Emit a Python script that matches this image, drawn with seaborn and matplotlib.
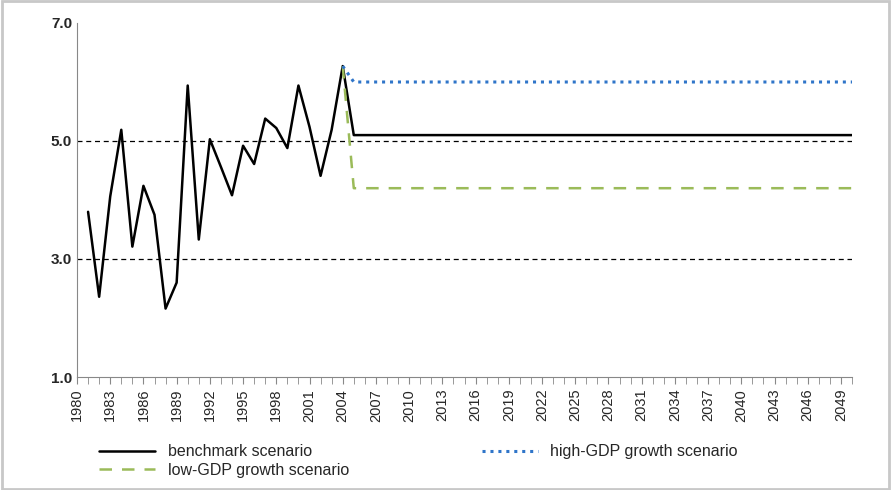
import matplotlib
matplotlib.use("Agg")
import matplotlib.pyplot as plt
import seaborn as sns
import pandas as pd
import numpy as np

# historical values, 1981-2004
hist_years = list(range(1981, 2005))
hist_vals = [3.80, 2.36, 4.06, 5.19, 3.21, 4.24, 3.75, 2.16, 2.60, 5.94, 3.33, 5.03,
             4.56, 4.08, 4.92, 4.61, 5.38, 5.22, 4.88, 5.94, 5.24, 4.41, 5.19, 6.27]
proj_years = list(range(2005, 2051))
bench_level = 5.1
high_level = 6.0
low_level = 4.2

sns.set_style("white")
plt.rcParams["font.family"] = ["Liberation Sans", "DejaVu Sans"]

bench = pd.DataFrame({"year": hist_years + proj_years,
                      "val": hist_vals + [bench_level] * len(proj_years)})
high = pd.DataFrame({"year": [2004] + proj_years, "val": [hist_vals[-1]] + [high_level] * len(proj_years)})
low = pd.DataFrame({"year": [2004] + proj_years, "val": [hist_vals[-1]] + [low_level] * len(proj_years)})

fig = plt.figure(figsize=(8.91, 4.90), dpi=100)
fig.patches.append(plt.Rectangle((0.002, 0.002), 0.996, 0.996, transform=fig.transFigure,
                                 fill=False, edgecolor="#c8c8c8", lw=2))
ax = fig.add_axes([77 / 891, 1 - 377 / 490, 775 / 891, 354 / 490])

for y in [3.0, 5.0]:
    ax.axhline(y, color="black", ls=(0, (4, 3)), lw=0.9, zorder=0)

sns.lineplot(data=bench, x="year", y="val", ax=ax, color="black", lw=1.8, label="benchmark scenario")
sns.lineplot(data=low, x="year", y="val", ax=ax, color="#9bbb59", lw=1.8, ls=(0, (5, 4)),
             label="low-GDP growth scenario")
sns.lineplot(data=high, x="year", y="val", ax=ax, color="#2f75c9", lw=2.2, ls=(0, (1, 1.6)),
             label="high-GDP growth scenario")

ax.set_xlim(1980, 2050)
ax.set_ylim(1.0, 7.0)
ax.set_yticks([1.0, 3.0, 5.0, 7.0])
ax.set_yticklabels(["1.0", "3.0", "5.0", "7.0"], fontsize=11, fontweight="bold")
ax.set_xticks(range(1980, 2050, 3))
ax.set_xticklabels([str(y) for y in range(1980, 2050, 3)], rotation=90, fontsize=10.5)
ax.set_xticks(range(1980, 2051), minor=True)
ax.tick_params(axis="x", which="both", direction="out", length=5, color="#888888", bottom=True)
ax.tick_params(axis="y", length=0)
ax.set_xlabel("")
ax.set_ylabel("")
for s in ["top", "right"]:
    ax.spines[s].set_visible(False)
for s in ["left", "bottom"]:
    ax.spines[s].set_color("#888888")

ax.legend(loc="upper left", bbox_to_anchor=(0.01, -0.15), ncol=2, frameon=False, fontsize=11.5,
          handlelength=3.5, columnspacing=8.3, labelspacing=0.2)

fig.savefig("out.png", dpi=100)
